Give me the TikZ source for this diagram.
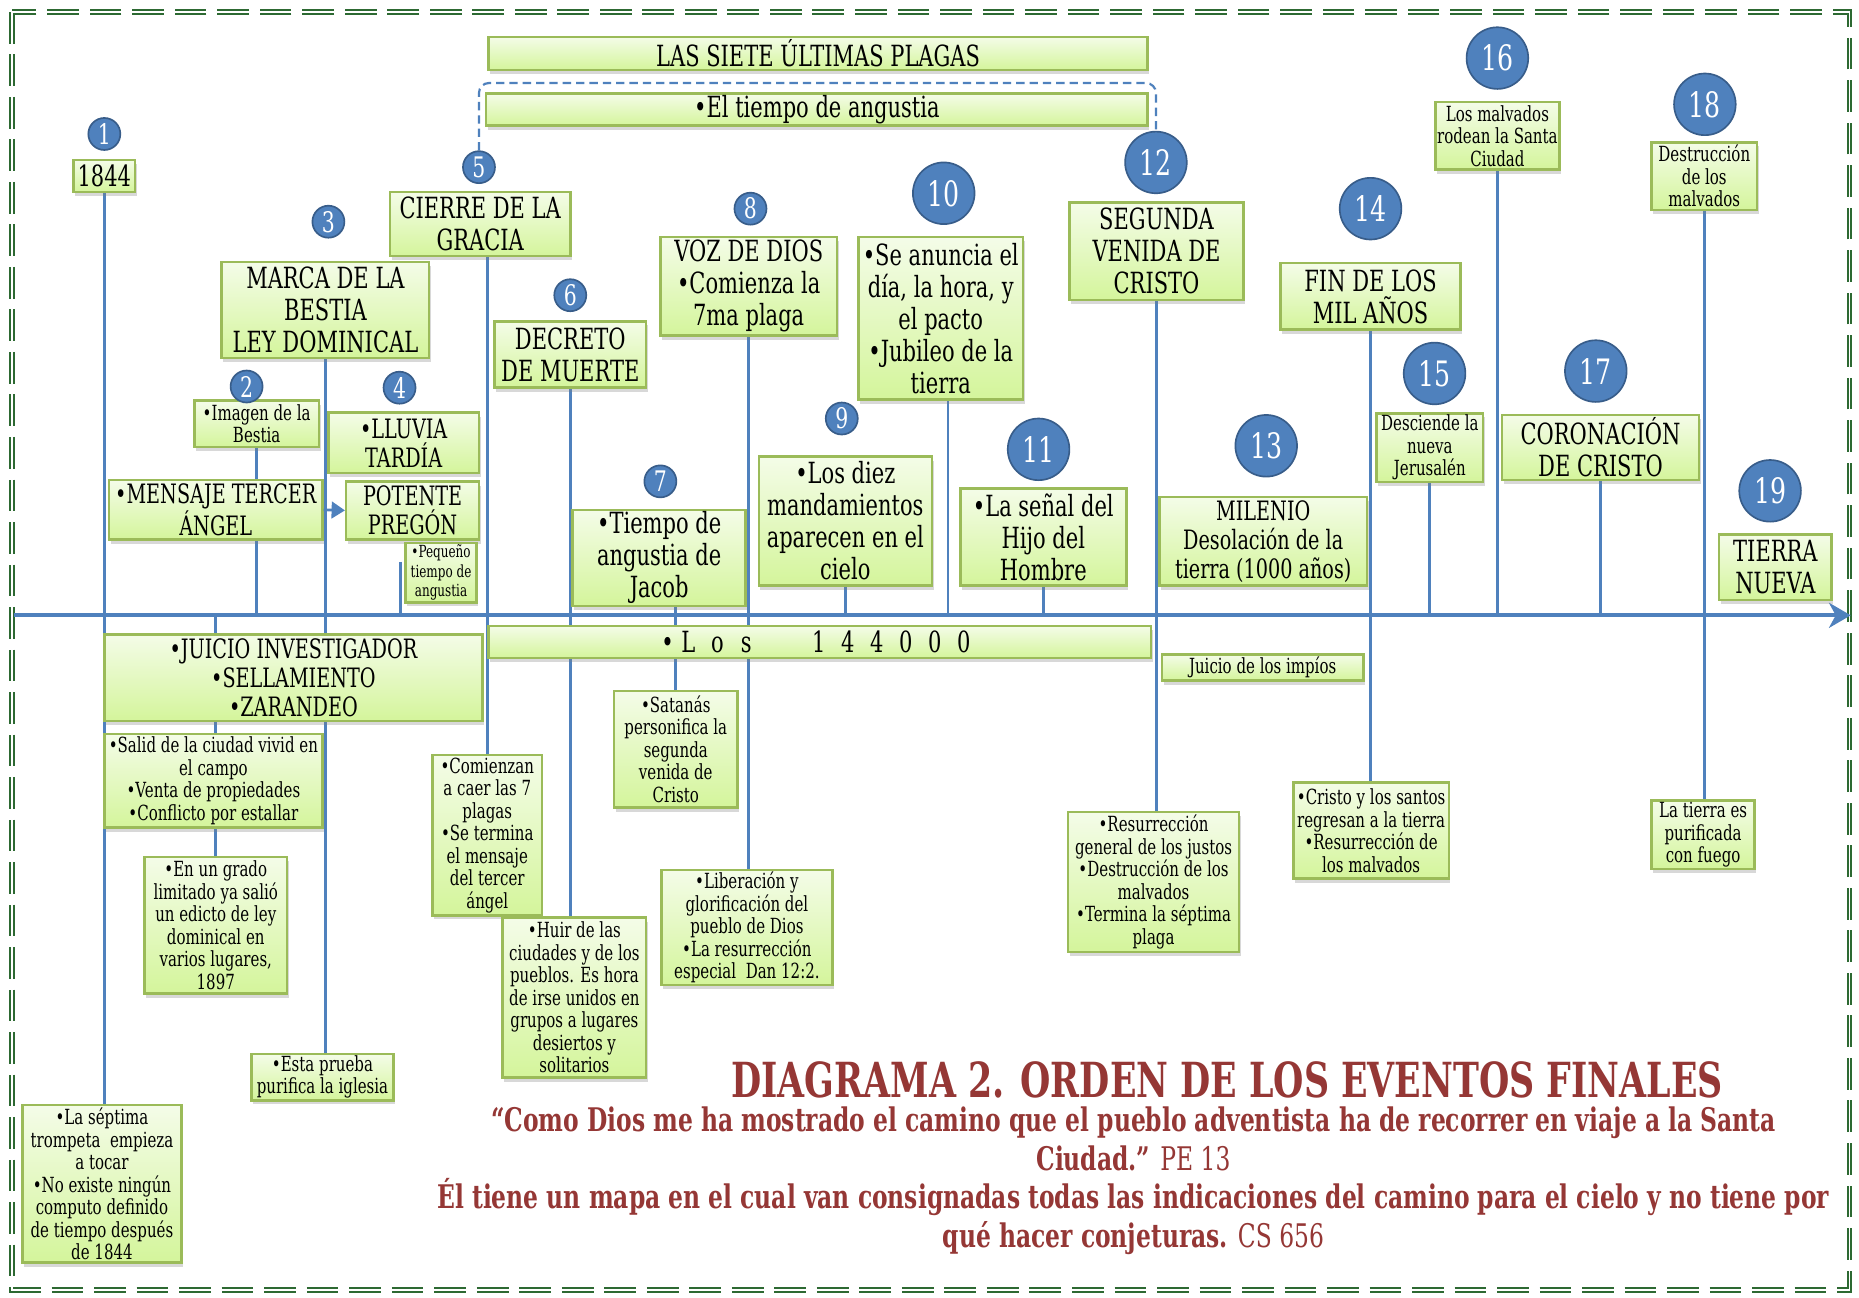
\documentclass[tikz,border=0pt]{standalone}
\usepackage{fontspec}
\setmainfont{DejaVu Serif}[FakeStretch=0.72]
\usetikzlibrary{positioning, arrows.meta, shadows, backgrounds, calc}
\definecolor{numblue}{RGB}{79,129,189}
\definecolor{numedge}{RGB}{56,93,138}
\definecolor{boxedge}{RGB}{155,187,89}
\definecolor{boxtop}{RGB}{244,252,232}
\definecolor{boxbot}{RGB}{212,245,155}
\definecolor{framegreen}{RGB}{45,105,50}
\definecolor{titlered}{RGB}{149,55,53}
\newcommand{\px}{0.025cm}
\newcommand{\lsp}[1]{\makebox[17.4pt]{#1}}

\tikzset{
  evt/.style={draw=boxedge, line width=1.5pt, top color=boxtop, bottom color=boxbot,
    align=center, inner sep=1pt,
    drop shadow={shadow xshift=1pt, shadow yshift=-2.5pt, opacity=0.3}},
  bigbox/.style={evt, font=\fontsize{17.5}{19.2}\selectfont},
  midbox/.style={evt, font=\fontsize{16}{17.4}\selectfont},
  smallbox/.style={evt, font=\fontsize{12.5}{13.5}\selectfont},
  tinybox/.style={evt, font=\fontsize{10}{11.7}\selectfont},
  num/.style={circle, fill=numblue, draw=numedge, line width=1pt, text=white,
    inner sep=0pt, minimum size=27*\px, font=\fontsize{17}{17}\selectfont},
  bignum/.style={num, minimum size=52*\px, font=\fontsize{21}{21}\selectfont},
  link/.style={draw=numblue, line width=1.6pt},
}

\begin{document}
\begin{tikzpicture}[x=\px, y=-\px]
  \useasboundingbox (0,0) rectangle (1568,1094);

  % bands on top
  \node[bigbox, minimum width=556*\px, minimum height=28*\px] (plagas) at (690,45) {LAS SIETE ÚLTIMAS PLAGAS};
  \node[bigbox, minimum width=558*\px, minimum height=27*\px] (angustia) at (689,92.5) {•El tiempo de angustia};

  % events above the time line
  \node[bigbox, minimum width=52*\px, minimum height=27*\px] (y1844) at (88,148.5) {1844};
  \node[bigbox, minimum width=152*\px, minimum height=54*\px] (cierre) at (405,189) {CIERRE DE LA\\GRACIA};
  \node[bigbox, minimum width=175*\px, minimum height=81*\px] (marca) at (274.5,261.5) {MARCA DE LA\\BESTIA\\LEY DOMINICAL};
  \node[bigbox, minimum width=128*\px, minimum height=56*\px] (decreto) at (481,299) {DECRETO\\DE MUERTE};
  \node[bigbox, minimum width=149*\px, minimum height=83*\px] (voz) at (631.5,241.5) {VOZ DE DIOS\\•Comienza la\\7ma plaga};
  \node[bigbox, minimum width=139*\px, minimum height=137*\px] (anuncia) at (793.5,268.5) {•Se anuncia el\\día, la hora, y\\el pacto\\•Jubileo de la\\tierra};
  \node[bigbox, minimum width=147*\px, minimum height=82*\px] (segunda) at (975.5,212) {SEGUNDA\\VENIDA DE\\CRISTO};
  \node[bigbox, minimum width=152*\px, minimum height=56*\px] (fin) at (1156,250) {FIN DE LOS\\MIL AÑOS};
  \node[smallbox, minimum width=104*\px, minimum height=57*\px] (rodean) at (1263,114.5) {Los malvados\\rodean la Santa\\Ciudad};
  \node[smallbox, minimum width=89*\px, minimum height=57*\px] (destruccion) at (1437.5,148.5) {Destrucción\\de los\\malvados};
  \node[smallbox, minimum width=105*\px, minimum height=39*\px] (imagen) at (216.5,357.5) {•Imagen de la\\Bestia};
  \node[midbox, minimum width=127*\px, minimum height=51*\px] (lluvia) at (340.5,373.5) {•LLUVIA\\TARDÍA};
  \node[midbox, minimum width=180*\px, minimum height=50*\px] (mensaje) at (182,430) {•MENSAJE TERCER\\ÁNGEL};
  \node[midbox, minimum width=112*\px, minimum height=49*\px] (potente) at (348,430.5) {POTENTE\\PREGÓN};
  \node[tinybox, minimum width=60*\px, minimum height=50*\px] (pequeno) at (372,483) {•Pequeño\\tiempo de\\angustia};
  \node[bigbox, minimum width=146*\px, minimum height=81*\px] (jacob) at (556,470.5) {•Tiempo de\\angustia de\\Jacob};
  \node[bigbox, minimum width=146*\px, minimum height=109*\px] (diez) at (713,439.5) {•Los diez\\mandamientos\\aparecen en el\\cielo};
  \node[bigbox, minimum width=140*\px, minimum height=82*\px] (senal) at (880,453) {•La señal del\\Hijo del\\Hombre};
  \node[midbox, minimum width=175*\px, minimum height=75*\px] (milenio) at (1065.5,456.5) {MILENIO\\Desolación de la\\tierra (1000 años)};
  \node[smallbox, minimum width=90*\px, minimum height=57*\px] (desciende) at (1206,377.5) {Desciende la\\nueva\\Jerusalén};
  \node[bigbox, minimum width=166*\px, minimum height=55*\px] (coronacion) at (1350,377.5) {CORONACIÓN\\DE CRISTO};
  \node[bigbox, minimum width=95*\px, minimum height=55*\px] (nueva) at (1497.5,478.5) {TIERRA\\NUEVA};

  % events below the time line
  \node[midbox, minimum width=319*\px, minimum height=73*\px] (juicio) at (247.5,571.5) {•JUICIO INVESTIGADOR\\•SELLAMIENTO\\•ZARANDEO};
  \node[bigbox, minimum width=559*\px, minimum height=27*\px] (los144) at (691.5,541.5)
    {•\lsp{L}\lsp{o}\lsp{s}\hspace{26pt}\lsp{1}\lsp{4}\lsp{4}\lsp{0}\lsp{0}\lsp{0}};
  \node[smallbox, minimum width=170*\px, minimum height=22*\px] (impios) at (1065,563) {Juicio de los impíos};
  \node[smallbox, minimum width=184*\px, minimum height=79*\px] (salid) at (180,658.5) {•Salid de la ciudad vivid en\\el campo\\•Venta de propiedades\\•Conflicto por estallar};
  \node[smallbox, minimum width=120*\px, minimum height=115*\px] (grado) at (182,780.5) {•En un grado\\limitado ya salió\\un edicto de ley\\dominical en\\varios lugares,\\1897};
  \node[smallbox, minimum width=120*\px, minimum height=39*\px] (prueba) at (272,908.5) {•Esta prueba\\purifica la iglesia};
  \node[smallbox, minimum width=134*\px, minimum height=133*\px] (septima) at (86,998.5) {•La séptima\\trompeta\ \ empieza\\a tocar\\•No existe ningún\\computo definido\\de tiempo después\\de 1844};
  \node[smallbox, minimum width=92*\px, minimum height=135*\px] (comienzan) at (411,704.5) {•Comienzan\\a caer las 7\\plagas\\•Se termina\\el mensaje\\del tercer\\ángel};
  \node[smallbox, minimum width=121*\px, minimum height=135*\px] (huir) at (484.5,841.5) {•Huir de las\\ciudades y de los\\pueblos. Es hora\\de irse unidos en\\grupos a lugares\\desiertos y\\solitarios};
  \node[smallbox, minimum width=104*\px, minimum height=98*\px] (satanas) at (570,632) {•Satanás\\personifica la\\segunda\\venida de\\Cristo};
  \node[smallbox, minimum width=144*\px, minimum height=97*\px] (liberacion) at (630,782.5) {•Liberación y\\glorificación del\\pueblo de Dios\\•La resurrección\\especial\ \ Dan 12:2.};
  \node[smallbox, minimum width=144*\px, minimum height=118*\px] (resurreccion) at (973,744) {•Resurrección\\general de los justos\\•Destrucción de los\\malvados\\•Termina la séptima\\plaga};
  \node[smallbox, minimum width=131*\px, minimum height=81*\px] (regresan) at (1156.5,700.5) {•Cristo y los santos\\regresan a la tierra\\•Resurrección de\\los malvados};
  \node[smallbox, minimum width=87*\px, minimum height=58*\px] (purificada) at (1436.5,704) {La tierra es\\purificada\\con fuego};

  % numbers
  \node[num] (n1) at (88,113) {1};
  \node[num] (n2) at (208,326) {2};
  \node[num] (n3) at (277,187) {3};
  \node[num] (n4) at (337,327) {4};
  \node[num] (n5) at (404,141) {5};
  \node[num] (n6) at (481,249) {6};
  \node[num] (n7) at (557,406) {7};
  \node[num] (n8) at (633,176) {8};
  \node[num] (n9) at (710,353) {9};
  \node[bignum] (n10) at (796,163) {10};
  \node[bignum] (n11) at (876,379) {11};
  \node[bignum] (n12) at (975,137) {12};
  \node[bignum] (n13) at (1068,376) {13};
  \node[bignum] (n14) at (1156,176) {14};
  \node[bignum] (n15) at (1210,315) {15};
  \node[bignum] (n16) at (1263,49) {16};
  \node[bignum] (n17) at (1346,313) {17};
  \node[bignum] (n18) at (1438,88) {18};
  \node[bignum] (n19) at (1493,414) {19};

  % title and quote
  \node[inner sep=0pt, text=titlered, font=\bfseries\fontsize{29}{29}\selectfont] (titulo) at (1035,911) {DIAGRAMA 2. ORDEN DE LOS EVENTOS FINALES};
  \node[inner sep=0pt, text=titlered, align=center, font=\fontsize{19.5}{23.2}\selectfont] (cita) at (956,996)
    {\textbf{“Como Dios me ha mostrado el camino que el pueblo adventista ha de recorrer en viaje a la Santa}\\
     \textbf{Ciudad.”} PE 13\\
     \textbf{Él tiene un mapa en el cual van consignadas todas las indicaciones del camino para el cielo y no tiene por}\\
     \textbf{qué hacer conjeturas.} CS 656};

  \coordinate (axl) at (12,519);
  \coordinate (axr) at (1561,519);
  \coordinate (pq) at (338,474);
  \coordinate (brk) at (0,70);

  \begin{scope}[on background layer]
    \fill[white] (0,0) rectangle (1568,1094);
    % frame
    \draw[framegreen, line width=1.2pt, double=white, double distance=1.1pt,
      dash pattern=on 19pt off 6.5pt] (10,10) rectangle (1560,1088);
    % time line
    \draw[link, line width=2.2pt, -{Stealth[length=13pt, width=15pt, inset=4pt]}] (axl) -- (axr);
    % connectors
    \draw[link] (y1844.south) -- (y1844.south |- septima.north);
    \draw[link] (imagen.south) -- (imagen.south |- axl);
    \draw[link] (marca.south) -- (marca.south |- prueba.north);
    \draw[link] (axl -| grado.north) -- (grado.north);
    \draw[link] (pq) -- (pq |- axl);
    \draw[link] (comienzan.north |- cierre.south) -- (comienzan.north);
    \draw[link] (decreto.south) -- (decreto.south |- huir.north);
    \draw[link] (satanas.north |- jacob.south) -- (satanas.north);
    \draw[link] (voz.south) -- (voz.south |- liberacion.north);
    \draw[link] (diez.south) -- (diez.south |- axl);
    \draw[link] ([xshift=6*\px]anuncia.south) -- ([xshift=6*\px]anuncia.south |- axl);
    \draw[link] (senal.south) -- (senal.south |- axl);
    \draw[link] (segunda.south) -- (segunda.south |- resurreccion.north);
    \draw[link] (fin.south) -- (fin.south |- regresan.north);
    \draw[link] (desciende.south) -- (desciende.south |- axl);
    \draw[link] (rodean.south) -- (rodean.south |- axl);
    \draw[link] (coronacion.south) -- (coronacion.south |- axl);
    \draw[link] (destruccion.south) -- (destruccion.south |- purificada.north);
    % span of the plagues
    \draw[numblue, line width=1.3pt, dash pattern=on 5pt off 3pt, rounded corners=6pt]
      (n5.north) -- (n5.north |- brk) -- (n12.north |- brk) -- (n12.north);
  \end{scope}

  \draw[link, -{Triangle[length=8pt, width=10pt]}] (mensaje.east) -- (potente.west);
\end{tikzpicture}
\end{document}
